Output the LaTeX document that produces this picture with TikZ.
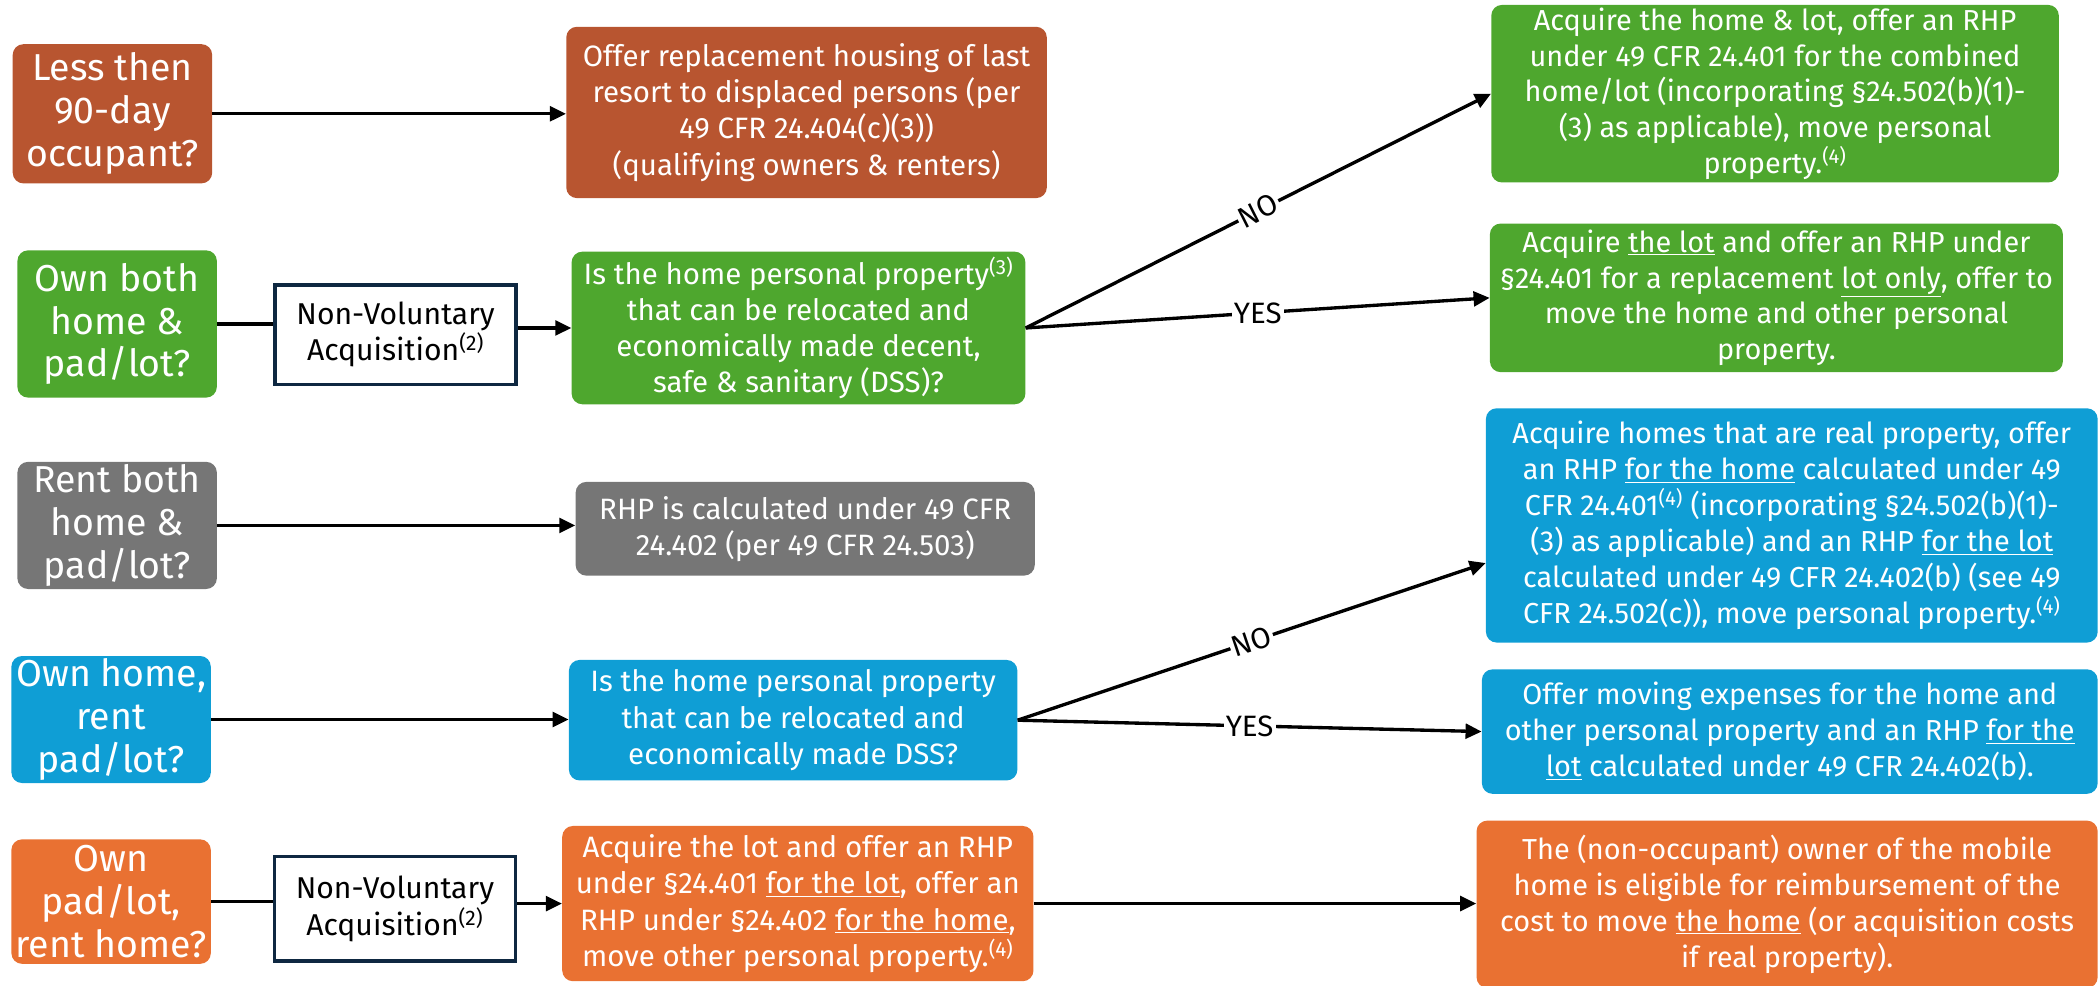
\documentclass[tikz,border=0pt]{standalone}
\usepackage{fontspec}
\setmainfont{Fira Sans}
\usetikzlibrary{arrows.meta}

\definecolor{rust}{HTML}{B85530}
\definecolor{leaf}{HTML}{4EA72E}
\definecolor{slate}{HTML}{767676}
\definecolor{sky}{HTML}{0F9ED5}
\definecolor{tangerine}{HTML}{E97132}
\definecolor{navy}{HTML}{0E2841}

\begin{document}
\begin{tikzpicture}[x=1pt, y=-1pt,
    box/.style={rounded corners=8pt, text=white, align=center, inner sep=2pt},
    ask/.style={box, minimum width=149pt, font=\fontsize{28}{32}\selectfont},
    mid/.style={box, font=\fontsize{22}{27}\selectfont},
    res/.style={box, font=\fontsize{21.6}{26.8}\selectfont},
    nvol/.style={draw=navy, line width=2.5pt, fill=white, align=center,
        minimum width=180pt, font=\fontsize{22.5}{27}\selectfont},
    link/.style={line width=2.5pt},
    flow/.style={link, -{Triangle[length=12pt,width=11pt]}},
    tag/.style={fill=white, inner sep=1.5pt, font=\fontsize{22}{24}\selectfont}]

    \useasboundingbox (0,0) rectangle (1568,736);

    % questions on the left
    \node[ask, fill=rust, minimum height=104pt] (less) at (84,85)
        {Less then\\90-day\\occupant?};
    \node[ask, fill=leaf, minimum height=110pt] (ownboth) at (87.5,242)
        {Own both\\home \&\\pad/lot?};
    \node[ask, fill=slate, minimum height=95pt] (rentboth) at (87.5,392.5)
        {Rent both\\home \&\\pad/lot?};
    \node[ask, fill=sky, minimum height=91pt] (ownhome) at (83,537.5)
        {Own home,\\rent\\pad/lot?};
    \node[ask, fill=tangerine, minimum height=93pt] (ownlot) at (83,673.5)
        {Own\\pad/lot,\\rent home?};

    \node[nvol, minimum height=74pt] (nvone) at (295.5,250)
        {Non-Voluntary\\Acquisition\textsuperscript{(2)}};
    \node[nvol, minimum height=78pt] (nvtwo) at (295,679)
        {Non-Voluntary\\Acquisition\textsuperscript{(2)}};

    % middle column
    \node[mid, fill=rust, minimum width=359pt, minimum height=128pt] (resort) at (602.5,84)
        {Offer replacement housing of last\\resort to displaced persons (per\\49 CFR 24.404(c)(3))\\(qualifying owners \& renters)};
    \node[mid, fill=leaf, minimum width=339pt, minimum height=114pt] (isdss) at (596.5,245)
        {Is the home personal property\textsuperscript{(3)}\\that can be relocated and\\economically made decent,\\safe \& sanitary (DSS)?};
    \node[mid, fill=slate, minimum width=343pt, minimum height=70pt] (rhp) at (601.5,395)
        {RHP is calculated under 49 CFR\\24.402 (per 49 CFR 24.503)};
    \node[mid, fill=sky, minimum width=335pt, minimum height=90pt] (isreloc) at (592.5,538)
        {Is the home personal property\\that can be relocated and\\economically made DSS?};
    \node[mid, fill=tangerine, minimum width=352pt, minimum height=116pt] (acqlot) at (596,675)
        {Acquire the lot and offer an RHP\\under §24.401 \underline{for the lot}, offer an\\RHP under §24.402 \underline{for the home},\\move other personal property.\textsuperscript{(4)}};

    % results on the right
    \node[res, fill=leaf, minimum width=424pt, minimum height=130pt] (acqboth) at (1326,70)
        {Acquire the home \& lot, offer an RHP\\under 49 CFR 24.401 for the combined\\home/lot (incorporating §24.502(b)(1)-\\(3) as applicable), move personal\\property.\textsuperscript{(4)}};
    \node[res, fill=leaf, minimum width=428pt, minimum height=111pt] (lotonly) at (1327,222.5)
        {Acquire \underline{the lot} and offer an RHP under\\§24.401 for a replacement \underline{lot only}, offer to\\move the home and other personal\\property.};
    \node[res, fill=sky, minimum width=457pt, minimum height=175pt] (acqreal) at (1338.5,392.5)
        {Acquire homes that are real property, offer\\an RHP \underline{for the home} calculated under 49\\CFR 24.401\textsuperscript{(4)} (incorporating §24.502(b)(1)-\\(3) as applicable) and an RHP \underline{for the lot}\\calculated under 49 CFR 24.402(b) (see 49\\CFR 24.502(c)), move personal property.\textsuperscript{(4)}};
    \node[res, fill=sky, minimum width=460pt, minimum height=93pt] (moving) at (1337,546.5)
        {Offer moving expenses for the home and\\other personal property and an RHP \underline{for the}\\\underline{lot} calculated under 49 CFR 24.402(b).};
    \node[res, fill=tangerine, minimum width=464pt, minimum height=125pt] (owner) at (1335,675.5)
        {The (non-occupant) owner of the mobile\\home is eligible for reimbursement of the\\cost to move \underline{the home} (or acquisition costs\\if real property).};

    % connectors
    \draw[flow] (less.east) -- (less.east -| resort.west);
    \draw[link] (ownboth.east) -- (ownboth.east -| nvone.west);
    \draw[flow] (isdss.west -| nvone.east) -- (isdss.west);
    \draw[flow] (isdss.east) -- node[tag, sloped] {NO} (acqboth.west);
    \draw[flow] (isdss.east) -- node[tag] {YES} (lotonly.west);
    \draw[flow] (rentboth.east) -- (rentboth.east -| rhp.west);
    \draw[flow] (ownhome.east) -- (ownhome.east -| isreloc.west);
    \draw[flow] (isreloc.east) -- node[tag, sloped] {NO} (acqreal.187);
    \draw[flow] (isreloc.east) -- node[tag] {YES} (moving.west);
    \draw[link] (ownlot.east) -- (ownlot.east -| nvtwo.west);
    \draw[flow] (acqlot.west -| nvtwo.east) -- (acqlot.west);
    \draw[flow] (acqlot.east) -- (acqlot.east -| owner.west);

\end{tikzpicture}
\end{document}
